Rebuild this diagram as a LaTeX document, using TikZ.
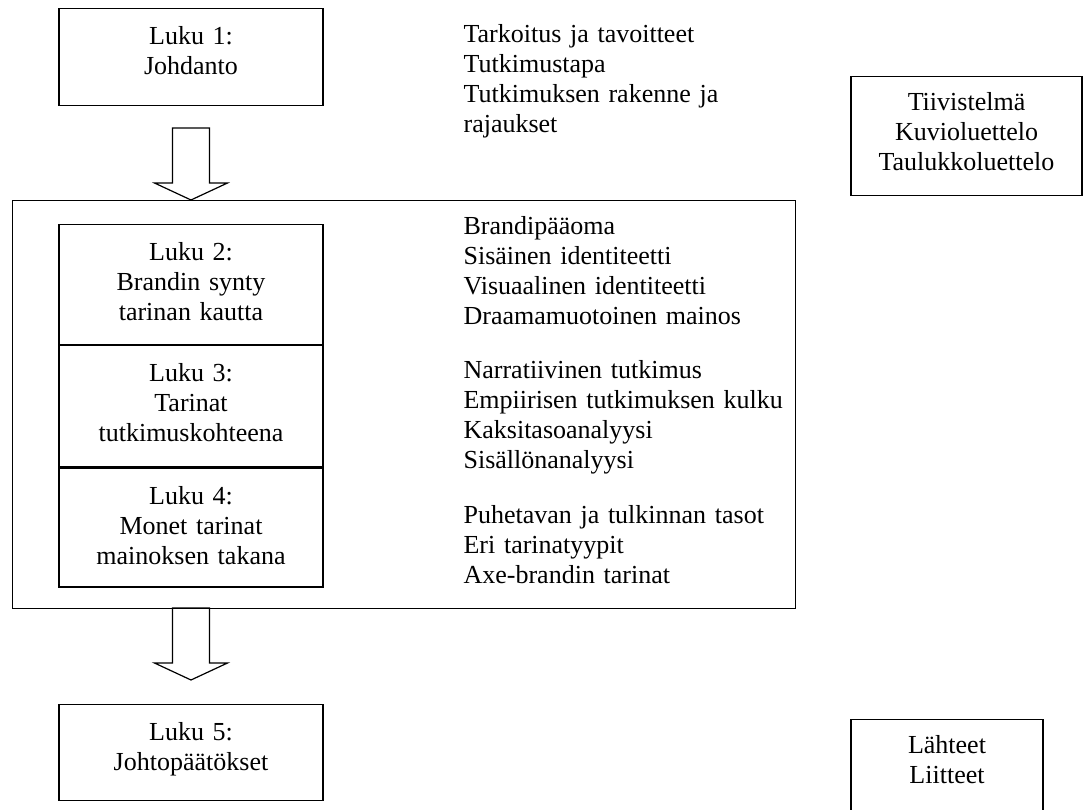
\documentclass[tikz,border=0pt]{standalone}
\usepackage{fontspec}
\setmainfont{Liberation Serif}
\usetikzlibrary{positioning}

\begin{document}
\begin{tikzpicture}[x=1pt, y=-1pt,
    line width=1.2pt,
    font=\fontsize{26pt}{30pt}\selectfont,
    % --- Styles ---
    chapterBox/.style={
      draw,
      rectangle,
      inner sep=0pt,
      anchor=north,
      text width=264pt,
      align=center,
      text height=36pt,
      text depth=#1
    },
    outerBox/.style={
      draw,
      rectangle,
      inner sep=0pt,
      anchor=north west
    },
    topicList/.style={
      anchor=base west,
      inner sep=0pt,
      text width=360pt,
      align=left
    },
    blockArrow/.style={
      draw,
      line join=miter
    }
]
\useasboundingbox (0,0) rectangle (1084,810);

%=====================
% Top: chapter 1 and front matter
%=====================
\node[chapterBox=61pt] (luku1) at (191,8) {Luku 1:\\Johdanto};
\node[topicList] (topics1) at (463,43) {Tarkoitus ja tavoitteet\\Tutkimustapa\\Tutkimuksen rakenne ja\\rajaukset};
\node[chapterBox=85pt, text width=231pt, text height=34pt] (frontMatter) at (966.5,76) {Tiivistelmä\\Kuvioluettelo\\Taulukkoluettelo};

%=====================
% Middle: chapters 2-4 inside the main frame
%=====================
\node[outerBox, minimum width=783pt, minimum height=408pt] (mainBox) at (12,200) {};
\node[chapterBox=84pt] (luku2) at (191,224) {Luku 2:\\Brandin synty\\tarinan kautta};
\node[chapterBox=85pt, below=0pt of luku2] (luku3) {Luku 3:\\Tarinat\\tutkimuskohteena};
\node[chapterBox=83pt, below=0pt of luku3] (luku4) {Luku 4:\\Monet tarinat\\mainoksen takana};
\node[topicList] (topics2) at (463,235) {Brandipääoma\\Sisäinen identiteetti\\Visuaalinen identiteetti\\Draamamuotoinen mainos};
\node[topicList] (topics3) at (463,378) {Narratiivinen tutkimus\\Empiirisen tutkimuksen kulku\\Kaksitasoanalyysi\\Sisällönanalyysi};
\node[topicList] (topics4) at (463,523) {Puhetavan ja tulkinnan tasot\\Eri tarinatyypit\\Axe-brandin tarinat};

%=====================
% Bottom: chapter 5 and back matter
%=====================
\node[chapterBox=60pt] (luku5) at (191,704) {Luku 5:\\Johtopäätökset};
\node[chapterBox=59pt, text width=192pt, text height=34pt] (backMatter) at (947,719) {Lähteet\\Liitteet};

%=====================
% Hollow arrows between the blocks
%=====================
\coordinate (tipA) at (luku1.south |- mainBox.north);
\coordinate (tipB) at (191,680);
\draw[blockArrow] (tipA) -- ++(-36.5,-17) -- ++(18,0) -- ++(0,-55) -- ++(37,0) -- ++(0,55) -- ++(18,0) -- cycle;
\draw[blockArrow] (tipB) -- ++(-36.5,-17) -- ++(18,0) -- ++(0,-55) -- ++(37,0) -- ++(0,55) -- ++(18,0) -- cycle;

\end{tikzpicture}
\end{document}
